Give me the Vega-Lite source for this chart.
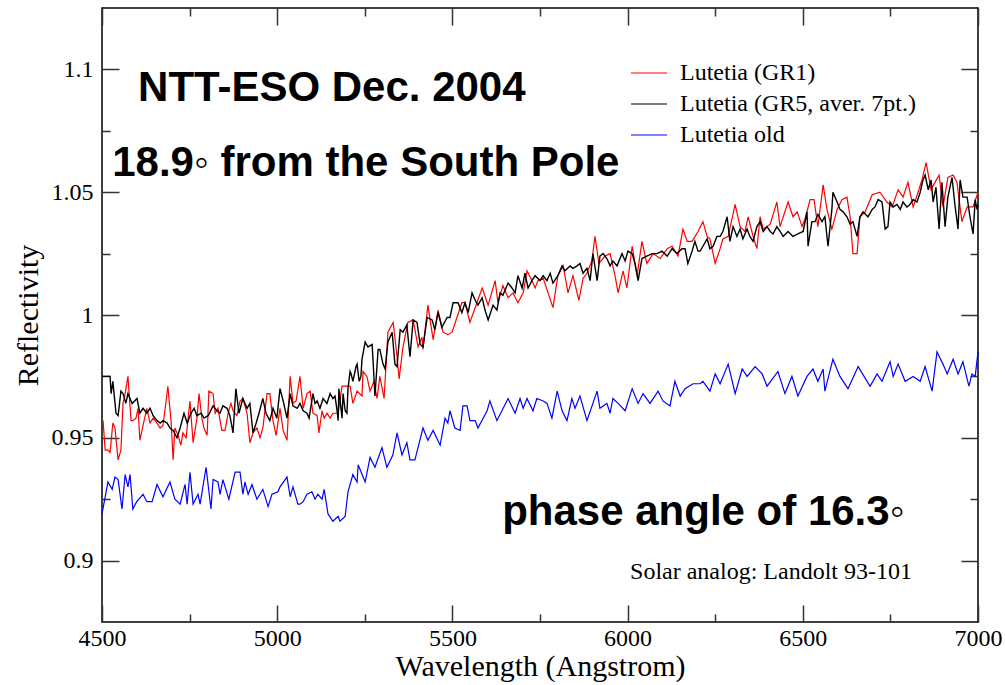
{
  "$schema": "https://vega.github.io/schema/vega-lite/v6.json",
  "width": 876,
  "height": 614,
  "autosize": "none",
  "padding": {"left": 102, "top": 8, "right": 27, "bottom": 63},
  "background": "white",
  "config": {
    "view": {"stroke": "#000000", "strokeWidth": 1.5},
    "axis": {
      "domain": false,
      "grid": false,
      "labelFont": "Liberation Serif",
      "labelFontSize": 24,
      "labelColor": "#000000",
      "titleFont": "Liberation Serif",
      "titleFontSize": 30,
      "titleFontWeight": "normal",
      "titleColor": "#000000",
      "tickColor": "#333333",
      "tickWidth": 1.5,
      "labelFlush": false,
      "labelOverlap": false
    }
  },
  "resolve": {"axis": {"x": "independent", "y": "independent"}},
  "layer": [
    {
      "encoding": {
        "x": {
          "field": "w", "type": "quantitative",
          "scale": {"domain": [4500, 7000], "nice": false, "zero": false},
          "axis": {
            "orient": "bottom",
            "values": [4500, 4750, 5000, 5250, 5500, 5750, 6000, 6250, 6500, 6750, 7000],
            "format": "d",
            "labelExpr": "datum.value % 500 === 0 ? datum.label : ''",
            "tickSize": {"condition": {"test": "datum.value % 500 === 0", "value": -17}, "value": -8},
            "labelPadding": 21,
            "title": "Wavelength (Angstrom)",
            "titlePadding": -8
          }
        },
        "y": {
          "field": "r", "type": "quantitative",
          "scale": {"domain": [0.875, 1.125], "nice": false, "zero": false},
          "axis": {
            "orient": "left",
            "values": [0.9, 0.925, 0.95, 0.975, 1, 1.025, 1.05, 1.075, 1.1],
            "labelExpr": "round(datum.value * 1000) % 50 === 0 ? format(datum.value, '~g') : ''",
            "tickSize": {"condition": {"test": "round(datum.value * 1000) % 50 === 0", "value": -17}, "value": -8},
            "labelPadding": 26,
            "title": "Reflectivity",
            "titlePadding": 8
          }
        }
      },
      "layer": [
        {
          "data": {"values": [
            {"w":4503,"r":0.957},{"w":4509,"r":0.945},{"w":4517,"r":0.945},{"w":4523,"r":0.944},{"w":4531,"r":0.956},{"w":4537,"r":0.954},{"w":4546,"r":0.941},{"w":4554,"r":0.945},{"w":4560,"r":0.964},{"w":4566,"r":0.968},
            {"w":4574,"r":0.975},{"w":4583,"r":0.957},{"w":4588,"r":0.957},{"w":4597,"r":0.958},{"w":4603,"r":0.962},{"w":4608,"r":0.949},{"w":4617,"r":0.955},{"w":4628,"r":0.962},{"w":4637,"r":0.956},{"w":4646,"r":0.958},
            {"w":4657,"r":0.956},{"w":4666,"r":0.954},{"w":4674,"r":0.955},{"w":4683,"r":0.965},{"w":4688,"r":0.971},{"w":4697,"r":0.957},{"w":4703,"r":0.941},{"w":4708,"r":0.954},{"w":4717,"r":0.951},{"w":4725,"r":0.947},
            {"w":4731,"r":0.952},{"w":4740,"r":0.950},{"w":4751,"r":0.965},{"w":4760,"r":0.948},{"w":4771,"r":0.958},{"w":4777,"r":0.968},{"w":4785,"r":0.958},{"w":4791,"r":0.954},{"w":4800,"r":0.951},{"w":4805,"r":0.969},
            {"w":4817,"r":0.968},{"w":4823,"r":0.960},{"w":4831,"r":0.962},{"w":4842,"r":0.953},{"w":4851,"r":0.953},{"w":4860,"r":0.960},{"w":4868,"r":0.964},{"w":4874,"r":0.961},{"w":4885,"r":0.959},{"w":4894,"r":0.965},
            {"w":4902,"r":0.966},{"w":4914,"r":0.960},{"w":4922,"r":0.948},{"w":4931,"r":0.952},{"w":4942,"r":0.954},{"w":4951,"r":0.950},{"w":4959,"r":0.954},{"w":4971,"r":0.968},{"w":4979,"r":0.968},{"w":4988,"r":0.957},
            {"w":4997,"r":0.951},{"w":5008,"r":0.962},{"w":5017,"r":0.953},{"w":5028,"r":0.949},{"w":5037,"r":0.975},{"w":5045,"r":0.964},{"w":5054,"r":0.965},{"w":5065,"r":0.975},{"w":5074,"r":0.962},{"w":5085,"r":0.968},
            {"w":5094,"r":0.969},{"w":5102,"r":0.960},{"w":5114,"r":0.959},{"w":5119,"r":0.952},{"w":5128,"r":0.961},{"w":5134,"r":0.958},{"w":5142,"r":0.960},{"w":5151,"r":0.958},{"w":5159,"r":0.960},{"w":5174,"r":0.960},
            {"w":5185,"r":0.971},{"w":5199,"r":0.971},{"w":5208,"r":0.971},{"w":5216,"r":0.964},{"w":5228,"r":0.969},{"w":5242,"r":0.967},{"w":5245,"r":0.977},{"w":5256,"r":0.975},{"w":5265,"r":0.969},{"w":5276,"r":0.973},
            {"w":5285,"r":0.966},{"w":5293,"r":0.975},{"w":5305,"r":0.966},{"w":5316,"r":0.993},{"w":5331,"r":0.997},{"w":5342,"r":0.983},{"w":5348,"r":0.974},{"w":5359,"r":0.987},{"w":5373,"r":0.997},{"w":5388,"r":0.998},
            {"w":5402,"r":0.987},{"w":5413,"r":0.991},{"w":5416,"r":0.986},{"w":5430,"r":1.004},{"w":5445,"r":0.990},{"w":5459,"r":1.002},{"w":5473,"r":0.993},{"w":5487,"r":0.992},{"w":5499,"r":0.993},{"w":5513,"r":0.999},
            {"w":5527,"r":1.005},{"w":5536,"r":1.005},{"w":5550,"r":0.997},{"w":5570,"r":1.005},{"w":5585,"r":1.011},{"w":5602,"r":1.004},{"w":5622,"r":1.014},{"w":5630,"r":1.005},{"w":5644,"r":1.012},{"w":5659,"r":1.007},
            {"w":5673,"r":1.009},{"w":5687,"r":1.005},{"w":5702,"r":1.009},{"w":5713,"r":1.018},{"w":5727,"r":1.014},{"w":5736,"r":1.011},{"w":5744,"r":1.014},{"w":5759,"r":1.015},{"w":5773,"r":1.009},{"w":5787,"r":1.003},
            {"w":5801,"r":1.016},{"w":5816,"r":1.020},{"w":5830,"r":1.009},{"w":5844,"r":1.016},{"w":5861,"r":1.006},{"w":5873,"r":1.015},{"w":5884,"r":1.017},{"w":5898,"r":1.022},{"w":5907,"r":1.032},{"w":5918,"r":1.021},
            {"w":5936,"r":1.024},{"w":5950,"r":1.025},{"w":5964,"r":1.016},{"w":5973,"r":1.009},{"w":5987,"r":1.018},{"w":5998,"r":1.011},{"w":6013,"r":1.028},{"w":6027,"r":1.016},{"w":6041,"r":1.030},{"w":6055,"r":1.021},
            {"w":6073,"r":1.025},{"w":6093,"r":1.023},{"w":6113,"r":1.027},{"w":6127,"r":1.028},{"w":6144,"r":1.024},{"w":6158,"r":1.035},{"w":6170,"r":1.030},{"w":6184,"r":1.030},{"w":6201,"r":1.034},{"w":6215,"r":1.038},
            {"w":6227,"r":1.032},{"w":6235,"r":1.031},{"w":6250,"r":1.021},{"w":6264,"r":1.027},{"w":6272,"r":1.031},{"w":6287,"r":1.032},{"w":6307,"r":1.045},{"w":6321,"r":1.036},{"w":6335,"r":1.034},{"w":6344,"r":1.040},
            {"w":6358,"r":1.032},{"w":6369,"r":1.027},{"w":6378,"r":1.040},{"w":6387,"r":1.035},{"w":6407,"r":1.037},{"w":6426,"r":1.046},{"w":6435,"r":1.036},{"w":6458,"r":1.046},{"w":6472,"r":1.040},{"w":6484,"r":1.042},
            {"w":6498,"r":1.036},{"w":6506,"r":1.039},{"w":6521,"r":1.047},{"w":6532,"r":1.047},{"w":6543,"r":1.036},{"w":6558,"r":1.053},{"w":6569,"r":1.043},{"w":6583,"r":1.035},{"w":6598,"r":1.043},{"w":6612,"r":1.047},
            {"w":6626,"r":1.048},{"w":6635,"r":1.040},{"w":6643,"r":1.025},{"w":6655,"r":1.025},{"w":6663,"r":1.040},{"w":6678,"r":1.042},{"w":6698,"r":1.049},{"w":6720,"r":1.050},{"w":6740,"r":1.046},{"w":6755,"r":1.044},
            {"w":6772,"r":1.051},{"w":6786,"r":1.048},{"w":6800,"r":1.054},{"w":6815,"r":1.044},{"w":6829,"r":1.050},{"w":6840,"r":1.055},{"w":6852,"r":1.062},{"w":6866,"r":1.051},{"w":6877,"r":1.054},{"w":6889,"r":1.057},
            {"w":6900,"r":1.044},{"w":6914,"r":1.056},{"w":6929,"r":1.057},{"w":6940,"r":1.054},{"w":6954,"r":1.038},{"w":6969,"r":1.044},{"w":6986,"r":1.044},{"w":7000,"r":1.050}
          ]},
          "mark": {"type": "line", "strokeWidth": 1.2},
          "encoding": {
            "color": {
              "datum": "Lutetia (GR1)",
              "type": "nominal",
              "scale": {"domain": ["Lutetia (GR1)", "Lutetia (GR5, aver. 7pt.)", "Lutetia old"], "range": ["#ff0000", "#000000", "#0000ff"]},
              "legend": {
                "orient": "none", "legendX": 528, "legendY": 46, "title": null,
                "symbolType": "stroke", "symbolSize": 1296, "symbolStrokeWidth": 1.2,
                "labelFont": "Liberation Serif", "labelFontSize": 24, "labelColor": "#000000",
                "labelOffset": 12, "rowPadding": -3, "padding": 0, "labelLimit": 400
              }
            }
          }
        },
        {
          "data": {"values": [
            {"w":4500,"r":0.975},{"w":4523,"r":0.975},{"w":4526,"r":0.968},{"w":4531,"r":0.973},{"w":4540,"r":0.960},{"w":4546,"r":0.959},{"w":4554,"r":0.969},{"w":4560,"r":0.968},{"w":4568,"r":0.964},{"w":4574,"r":0.968},
            {"w":4586,"r":0.964},{"w":4600,"r":0.966},{"w":4608,"r":0.960},{"w":4617,"r":0.962},{"w":4628,"r":0.960},{"w":4637,"r":0.962},{"w":4646,"r":0.959},{"w":4657,"r":0.957},{"w":4666,"r":0.956},{"w":4674,"r":0.957},
            {"w":4686,"r":0.956},{"w":4694,"r":0.954},{"w":4703,"r":0.953},{"w":4714,"r":0.950},{"w":4723,"r":0.954},{"w":4734,"r":0.960},{"w":4743,"r":0.956},{"w":4754,"r":0.960},{"w":4763,"r":0.962},{"w":4771,"r":0.959},
            {"w":4783,"r":0.960},{"w":4791,"r":0.958},{"w":4803,"r":0.959},{"w":4817,"r":0.963},{"w":4828,"r":0.961},{"w":4837,"r":0.960},{"w":4845,"r":0.963},{"w":4857,"r":0.962},{"w":4865,"r":0.959},{"w":4874,"r":0.952},
            {"w":4882,"r":0.970},{"w":4891,"r":0.960},{"w":4902,"r":0.966},{"w":4914,"r":0.962},{"w":4922,"r":0.964},{"w":4931,"r":0.952},{"w":4940,"r":0.956},{"w":4948,"r":0.960},{"w":4959,"r":0.966},{"w":4968,"r":0.960},
            {"w":4979,"r":0.957},{"w":4988,"r":0.962},{"w":4999,"r":0.958},{"w":5008,"r":0.970},{"w":5017,"r":0.965},{"w":5028,"r":0.958},{"w":5037,"r":0.968},{"w":5045,"r":0.963},{"w":5057,"r":0.962},{"w":5065,"r":0.964},
            {"w":5074,"r":0.961},{"w":5085,"r":0.960},{"w":5091,"r":0.958},{"w":5102,"r":0.968},{"w":5108,"r":0.964},{"w":5114,"r":0.965},{"w":5122,"r":0.962},{"w":5131,"r":0.966},{"w":5142,"r":0.964},{"w":5151,"r":0.968},
            {"w":5159,"r":0.966},{"w":5165,"r":0.967},{"w":5171,"r":0.961},{"w":5174,"r":0.957},{"w":5176,"r":0.970},{"w":5185,"r":0.958},{"w":5188,"r":0.968},{"w":5194,"r":0.961},{"w":5199,"r":0.960},{"w":5202,"r":0.970},
            {"w":5208,"r":0.977},{"w":5211,"r":0.976},{"w":5216,"r":0.973},{"w":5225,"r":0.979},{"w":5228,"r":0.980},{"w":5234,"r":0.973},{"w":5239,"r":0.975},{"w":5242,"r":0.982},{"w":5251,"r":0.989},{"w":5259,"r":0.987},
            {"w":5271,"r":0.988},{"w":5279,"r":0.967},{"w":5288,"r":0.986},{"w":5293,"r":0.986},{"w":5302,"r":0.980},{"w":5308,"r":0.978},{"w":5316,"r":0.989},{"w":5328,"r":0.993},{"w":5336,"r":0.980},{"w":5342,"r":0.979},
            {"w":5351,"r":0.994},{"w":5359,"r":0.993},{"w":5370,"r":0.996},{"w":5379,"r":0.983},{"w":5388,"r":0.998},{"w":5399,"r":0.997},{"w":5408,"r":0.988},{"w":5416,"r":0.987},{"w":5428,"r":0.999},{"w":5442,"r":0.998},
            {"w":5450,"r":0.994},{"w":5459,"r":1.001},{"w":5470,"r":0.995},{"w":5485,"r":0.999},{"w":5493,"r":0.999},{"w":5502,"r":1.005},{"w":5516,"r":1.005},{"w":5527,"r":1.001},{"w":5536,"r":1.005},{"w":5545,"r":1.001},
            {"w":5556,"r":1.009},{"w":5565,"r":1.006},{"w":5573,"r":1.004},{"w":5585,"r":1.007},{"w":5593,"r":1.002},{"w":5602,"r":0.998},{"w":5616,"r":1.004},{"w":5627,"r":1.002},{"w":5636,"r":1.009},{"w":5644,"r":1.008},
            {"w":5659,"r":1.013},{"w":5670,"r":1.011},{"w":5679,"r":1.009},{"w":5687,"r":1.016},{"w":5699,"r":1.011},{"w":5707,"r":1.017},{"w":5716,"r":1.011},{"w":5727,"r":1.014},{"w":5736,"r":1.016},{"w":5750,"r":1.014},
            {"w":5759,"r":1.016},{"w":5770,"r":1.014},{"w":5779,"r":1.017},{"w":5787,"r":1.013},{"w":5801,"r":1.016},{"w":5813,"r":1.020},{"w":5821,"r":1.018},{"w":5836,"r":1.020},{"w":5844,"r":1.019},{"w":5856,"r":1.020},
            {"w":5864,"r":1.021},{"w":5873,"r":1.017},{"w":5884,"r":1.019},{"w":5893,"r":1.014},{"w":5901,"r":1.025},{"w":5913,"r":1.014},{"w":5921,"r":1.024},{"w":5930,"r":1.025},{"w":5941,"r":1.023},{"w":5950,"r":1.020},
            {"w":5958,"r":1.022},{"w":5970,"r":1.020},{"w":5984,"r":1.025},{"w":5993,"r":1.022},{"w":6001,"r":1.026},{"w":6013,"r":1.025},{"w":6021,"r":1.021},{"w":6030,"r":1.014},{"w":6041,"r":1.023},{"w":6055,"r":1.024},
            {"w":6070,"r":1.025},{"w":6084,"r":1.025},{"w":6098,"r":1.026},{"w":6113,"r":1.024},{"w":6127,"r":1.027},{"w":6141,"r":1.025},{"w":6155,"r":1.027},{"w":6164,"r":1.027},{"w":6172,"r":1.021},{"w":6184,"r":1.026},
            {"w":6192,"r":1.030},{"w":6201,"r":1.026},{"w":6207,"r":1.026},{"w":6215,"r":1.028},{"w":6227,"r":1.031},{"w":6235,"r":1.027},{"w":6244,"r":1.028},{"w":6255,"r":1.032},{"w":6264,"r":1.032},{"w":6272,"r":1.034},
            {"w":6284,"r":1.040},{"w":6292,"r":1.030},{"w":6301,"r":1.036},{"w":6312,"r":1.032},{"w":6321,"r":1.035},{"w":6329,"r":1.031},{"w":6341,"r":1.035},{"w":6349,"r":1.032},{"w":6358,"r":1.030},{"w":6369,"r":1.036},
            {"w":6378,"r":1.038},{"w":6387,"r":1.034},{"w":6398,"r":1.036},{"w":6407,"r":1.034},{"w":6415,"r":1.033},{"w":6426,"r":1.036},{"w":6435,"r":1.034},{"w":6444,"r":1.032},{"w":6458,"r":1.034},{"w":6472,"r":1.032},
            {"w":6486,"r":1.033},{"w":6501,"r":1.034},{"w":6512,"r":1.042},{"w":6515,"r":1.028},{"w":6526,"r":1.038},{"w":6535,"r":1.038},{"w":6543,"r":1.041},{"w":6555,"r":1.038},{"w":6563,"r":1.040},{"w":6572,"r":1.028},
            {"w":6583,"r":1.043},{"w":6586,"r":1.050},{"w":6598,"r":1.046},{"w":6606,"r":1.043},{"w":6615,"r":1.042},{"w":6626,"r":1.040},{"w":6635,"r":1.037},{"w":6643,"r":1.038},{"w":6655,"r":1.032},{"w":6663,"r":1.040},
            {"w":6672,"r":1.042},{"w":6686,"r":1.040},{"w":6698,"r":1.043},{"w":6706,"r":1.044},{"w":6715,"r":1.047},{"w":6726,"r":1.046},{"w":6735,"r":1.035},{"w":6743,"r":1.036},{"w":6749,"r":1.046},{"w":6758,"r":1.044},
            {"w":6769,"r":1.045},{"w":6778,"r":1.043},{"w":6786,"r":1.046},{"w":6797,"r":1.044},{"w":6806,"r":1.045},{"w":6815,"r":1.047},{"w":6826,"r":1.046},{"w":6835,"r":1.050},{"w":6843,"r":1.055},{"w":6849,"r":1.057},
            {"w":6858,"r":1.051},{"w":6866,"r":1.055},{"w":6872,"r":1.046},{"w":6880,"r":1.052},{"w":6889,"r":1.035},{"w":6897,"r":1.054},{"w":6906,"r":1.036},{"w":6914,"r":1.048},{"w":6926,"r":1.056},{"w":6934,"r":1.045},
            {"w":6943,"r":1.035},{"w":6949,"r":1.055},{"w":6957,"r":1.048},{"w":6969,"r":1.048},{"w":6977,"r":1.040},{"w":6986,"r":1.033},{"w":6992,"r":1.047},{"w":6997,"r":1.043},{"w":7000,"r":1.045}
          ]},
          "mark": {"type": "line", "strokeWidth": 1.4},
          "encoding": {"color": {"datum": "Lutetia (GR5, aver. 7pt.)", "type": "nominal"}}
        },
        {
          "data": {"values": [
            {"w":4500,"r":0.919},{"w":4517,"r":0.932},{"w":4529,"r":0.929},{"w":4537,"r":0.934},{"w":4546,"r":0.933},{"w":4557,"r":0.921},{"w":4566,"r":0.935},{"w":4574,"r":0.930},{"w":4580,"r":0.935},{"w":4588,"r":0.921},
            {"w":4599,"r":0.924},{"w":4617,"r":0.927},{"w":4628,"r":0.924},{"w":4643,"r":0.924},{"w":4657,"r":0.931},{"w":4674,"r":0.926},{"w":4694,"r":0.932},{"w":4708,"r":0.925},{"w":4723,"r":0.923},{"w":4737,"r":0.931},
            {"w":4743,"r":0.923},{"w":4751,"r":0.936},{"w":4760,"r":0.923},{"w":4774,"r":0.927},{"w":4780,"r":0.923},{"w":4797,"r":0.938},{"w":4811,"r":0.921},{"w":4817,"r":0.933},{"w":4831,"r":0.932},{"w":4837,"r":0.927},
            {"w":4845,"r":0.933},{"w":4862,"r":0.925},{"w":4880,"r":0.936},{"w":4894,"r":0.936},{"w":4902,"r":0.927},{"w":4908,"r":0.932},{"w":4917,"r":0.927},{"w":4928,"r":0.931},{"w":4942,"r":0.925},{"w":4959,"r":0.929},
            {"w":4974,"r":0.922},{"w":4985,"r":0.927},{"w":5002,"r":0.928},{"w":5008,"r":0.930},{"w":5028,"r":0.934},{"w":5037,"r":0.926},{"w":5045,"r":0.930},{"w":5059,"r":0.923},{"w":5065,"r":0.923},{"w":5074,"r":0.924},
            {"w":5085,"r":0.927},{"w":5099,"r":0.928},{"w":5108,"r":0.925},{"w":5116,"r":0.927},{"w":5128,"r":0.925},{"w":5134,"r":0.929},{"w":5145,"r":0.919},{"w":5159,"r":0.916},{"w":5174,"r":0.918},{"w":5179,"r":0.916},
            {"w":5194,"r":0.918},{"w":5202,"r":0.928},{"w":5216,"r":0.935},{"w":5228,"r":0.932},{"w":5231,"r":0.939},{"w":5251,"r":0.932},{"w":5265,"r":0.942},{"w":5279,"r":0.938},{"w":5299,"r":0.946},{"w":5313,"r":0.938},
            {"w":5330,"r":0.943},{"w":5342,"r":0.952},{"w":5356,"r":0.943},{"w":5370,"r":0.948},{"w":5379,"r":0.941},{"w":5393,"r":0.941},{"w":5416,"r":0.954},{"w":5430,"r":0.949},{"w":5445,"r":0.953},{"w":5465,"r":0.947},
            {"w":5479,"r":0.958},{"w":5487,"r":0.956},{"w":5493,"r":0.961},{"w":5507,"r":0.954},{"w":5522,"r":0.953},{"w":5530,"r":0.963},{"w":5542,"r":0.963},{"w":5550,"r":0.957},{"w":5565,"r":0.957},{"w":5573,"r":0.954},
            {"w":5599,"r":0.961},{"w":5607,"r":0.965},{"w":5627,"r":0.957},{"w":5659,"r":0.966},{"w":5679,"r":0.960},{"w":5693,"r":0.966},{"w":5702,"r":0.962},{"w":5713,"r":0.966},{"w":5730,"r":0.961},{"w":5741,"r":0.966},
            {"w":5759,"r":0.965},{"w":5770,"r":0.964},{"w":5784,"r":0.958},{"w":5799,"r":0.969},{"w":5813,"r":0.961},{"w":5827,"r":0.957},{"w":5841,"r":0.966},{"w":5850,"r":0.962},{"w":5864,"r":0.967},{"w":5884,"r":0.957},
            {"w":5901,"r":0.964},{"w":5913,"r":0.969},{"w":5921,"r":0.962},{"w":5941,"r":0.964},{"w":5950,"r":0.960},{"w":5958,"r":0.966},{"w":5973,"r":0.964},{"w":5993,"r":0.961},{"w":6013,"r":0.970},{"w":6030,"r":0.964},
            {"w":6044,"r":0.968},{"w":6064,"r":0.964},{"w":6087,"r":0.969},{"w":6101,"r":0.965},{"w":6121,"r":0.963},{"w":6135,"r":0.973},{"w":6150,"r":0.967},{"w":6164,"r":0.970},{"w":6187,"r":0.972},{"w":6207,"r":0.972},
            {"w":6215,"r":0.973},{"w":6235,"r":0.969},{"w":6250,"r":0.976},{"w":6264,"r":0.972},{"w":6287,"r":0.980},{"w":6307,"r":0.968},{"w":6327,"r":0.978},{"w":6341,"r":0.975},{"w":6364,"r":0.979},{"w":6384,"r":0.976},
            {"w":6398,"r":0.971},{"w":6429,"r":0.977},{"w":6449,"r":0.968},{"w":6469,"r":0.975},{"w":6486,"r":0.967},{"w":6512,"r":0.975},{"w":6529,"r":0.978},{"w":6543,"r":0.973},{"w":6558,"r":0.978},{"w":6563,"r":0.969},
            {"w":6586,"r":0.982},{"w":6606,"r":0.975},{"w":6629,"r":0.970},{"w":6658,"r":0.979},{"w":6692,"r":0.971},{"w":6712,"r":0.976},{"w":6726,"r":0.973},{"w":6749,"r":0.981},{"w":6758,"r":0.975},{"w":6772,"r":0.980},
            {"w":6792,"r":0.973},{"w":6815,"r":0.975},{"w":6835,"r":0.973},{"w":6849,"r":0.979},{"w":6869,"r":0.969},{"w":6883,"r":0.985},{"w":6900,"r":0.980},{"w":6912,"r":0.976},{"w":6929,"r":0.982},{"w":6943,"r":0.976},
            {"w":6957,"r":0.981},{"w":6974,"r":0.971},{"w":6983,"r":0.976},{"w":6992,"r":0.975},{"w":7000,"r":0.985}
          ]},
          "mark": {"type": "line", "strokeWidth": 1.2},
          "encoding": {"color": {"datum": "Lutetia old", "type": "nominal"}}
        }
      ]
    },
    {
      "encoding": {
        "x": {
          "field": "w", "type": "quantitative",
          "scale": {"domain": [4500, 7000], "nice": false, "zero": false},
          "axis": {
            "orient": "top",
            "values": [4500, 4750, 5000, 5250, 5500, 5750, 6000, 6250, 6500, 6750, 7000],
            "labels": false,
            "tickSize": {"condition": {"test": "datum.value % 500 === 0", "value": -17}, "value": -8},
            "title": null
          }
        },
        "y": {
          "field": "r", "type": "quantitative",
          "scale": {"domain": [0.875, 1.125], "nice": false, "zero": false},
          "axis": {
            "orient": "right",
            "values": [0.9, 0.925, 0.95, 0.975, 1, 1.025, 1.05, 1.075, 1.1],
            "labels": false,
            "tickSize": {"condition": {"test": "round(datum.value * 1000) % 50 === 0", "value": -17}, "value": -8},
            "title": null
          }
        },
        "text": {"field": "t", "type": "nominal"}
      },
      "layer": [
        {
          "data": {"values": [
            {"t": "NTT-ESO Dec. 2004", "w": 4603, "r": 1.0873},
            {"t": "18.9◦ from the South Pole", "w": 4529, "r": 1.0566},
            {"t": "phase angle of 16.3◦", "w": 5642, "r": 0.9143}
          ]},
          "mark": {"type": "text", "align": "left", "baseline": "alphabetic", "font": "Liberation Sans", "fontWeight": "bold", "fontSize": 42, "color": "#000000"}
        },
        {
          "data": {"values": [
            {"t": "Solar analog: Landolt 93-101", "w": 6007, "r": 0.8926}
          ]},
          "mark": {"type": "text", "align": "left", "baseline": "alphabetic", "font": "Liberation Serif", "fontSize": 24, "color": "#000000"}
        }
      ]
    }
  ]
}
